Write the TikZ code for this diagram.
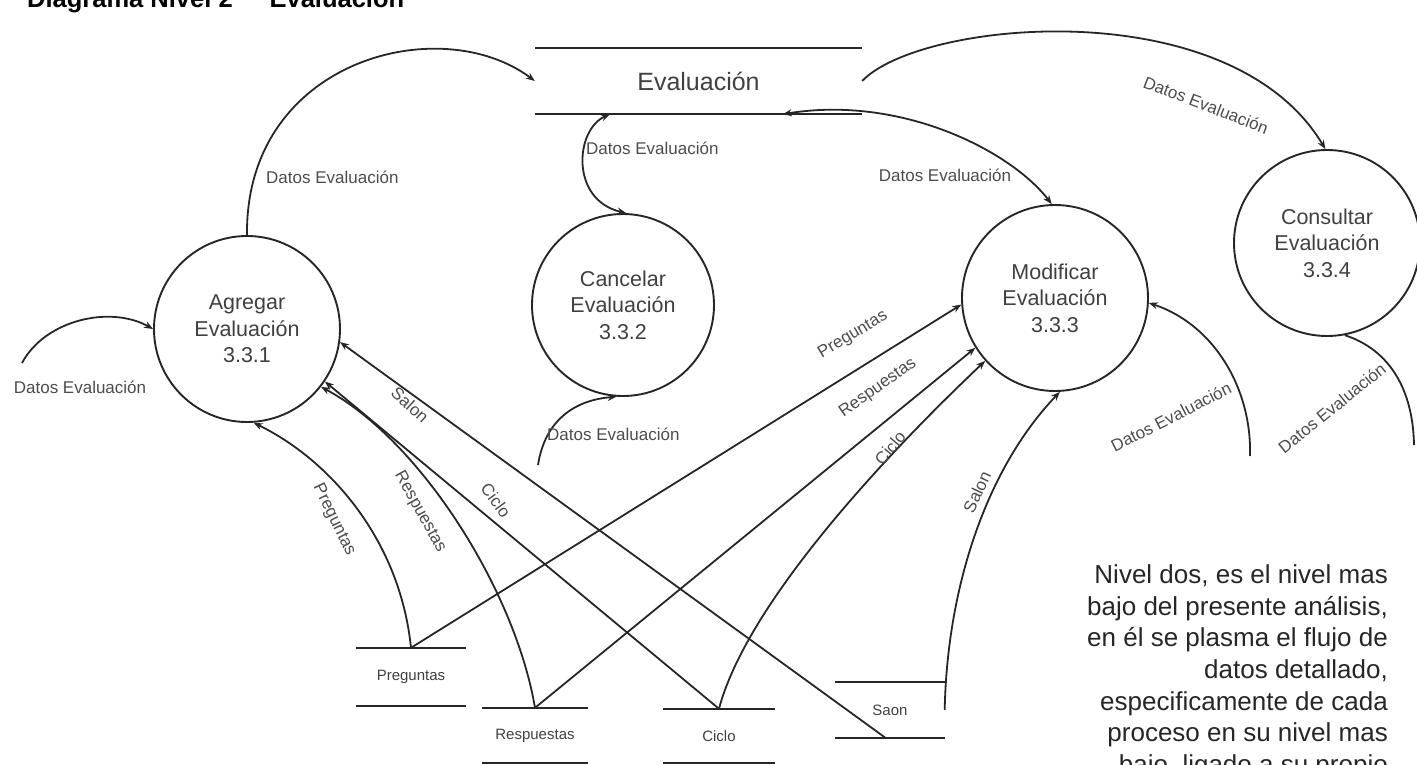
\documentclass[tikz,border=0pt]{standalone}
\usepackage{fontspec}
\setmainfont{Liberation Sans}
\usetikzlibrary{arrows.meta}
\begin{document}
\begin{tikzpicture}[x=1pt,y=-1pt,
  tip/.tip={Stealth[length=9pt,width=7pt]},
  flow/.style={draw=black!85, line width=1.8pt, -tip},
  twoway/.style={draw=black!85, line width=1.8pt, tip-tip},
  plainflow/.style={draw=black!85, line width=1.8pt},
  proc/.style={circle, draw=black!85, line width=1.9pt, minimum size=186pt,
    inner sep=0pt, align=center, text=black!75,
    font=\fontsize{21.5}{26.5}\selectfont},
  store/.style={inner sep=0pt, text=black!75},
  storeline/.style={draw=black!85, line width=2.4pt},
  lbl/.style={font=\fontsize{17}{20}\selectfont, text=black!70, inner sep=1pt},
  smalltext/.style={font=\fontsize{15}{18}\selectfont},
  para/.style={anchor=base east, inner sep=0pt, text=black!85,
    font=\fontsize{26}{31.7}\selectfont}
]
\useasboundingbox (0,0) rectangle (1417,765);
\clip (0,0) rectangle (1417,765);

% title
\node[anchor=base west, inner sep=0pt, font=\bfseries\fontsize{25.5}{30}\selectfont]
  (title) at (27,8) {Diagrama Nivel 2 \,\raisebox{3pt}{–}\, Evaluación};

% processes
\node[proc] (agr) at (247,329) {Agregar\\Evaluación\\3.3.1};
\node[proc, minimum size=182pt] (can) at (623,305) {Cancelar\\Evaluación\\3.3.2};
\node[proc] (mod) at (1055,298) {Modificar\\Evaluación\\3.3.3};
\node[proc] (con) at (1327,243) {Consultar\\Evaluación\\3.3.4};

% data store Evaluación
\node[store, minimum width=327pt, minimum height=66pt, font=\fontsize{25}{30}\selectfont]
  (evs) at (698.5,81) {Evaluación};
\draw[storeline] (evs.north west) -- (evs.north east);
\draw[storeline] (evs.south west) -- (evs.south east);

% lower data stores
\node[store, smalltext, minimum width=109pt, minimum height=58pt]
  (preg) at (411,677) {Preguntas};
\node[store, smalltext, minimum width=106pt, minimum height=55pt]
  (resp) at (535,735.5) {Respuestas};
\node[store, smalltext, minimum width=111pt, minimum height=54pt]
  (cic) at (719,736) {Ciclo};
\node[store, smalltext, minimum width=109pt, minimum height=56pt]
  (sal) at (890,710) {Saon};
\foreach \s in {preg,resp,cic,sal}{
  \draw[storeline] (\s.north west) -- (\s.north east);
  \draw[storeline] (\s.south west) -- (\s.south east);
}

% free ends of external flows
\coordinate (extL) at (22,363);
\coordinate (extC) at (538,465);
\coordinate (extM) at (1250,456);
\coordinate (extK) at (1414,445);

% flows around the Evaluación store
\draw[flow] (agr.90) .. controls (245,60) and (440,10) .. (evs.west);
\draw[twoway] ([xshift=75pt]evs.south west) .. controls (575,130) and (570,200) .. (can.88);
\draw[twoway] ([xshift=248pt]evs.south west) .. controls (900,95) and (1010,150) .. (mod.92);
\draw[flow] (evs.east) .. controls (920,20) and (1230,-10) .. (con.91);

% external flows
\draw[flow] (extL) .. controls (45,320) and (110,305) .. (agr.180);
\draw[flow] (extC) .. controls (545,420) and (575,400) .. (can.266);
\draw[flow] (extM) .. controls (1252,390) and (1215,325) .. (mod.357);
\draw[plainflow] (con.-79) .. controls (1390,350) and (1413,390) .. (extK);

% flows from the lower stores into Agregar
\draw[flow] (preg.north) .. controls (400,540) and (330,460) .. (agr.274);
\draw[flow] (resp.north) .. controls (515,590) and (420,440) .. (agr.-38);
\draw[flow] (cic.north) -- (agr.-34);
\draw[flow] ([xshift=-4pt]sal.south) -- (agr.-8);

% flows from the lower stores into Modificar
\draw[flow] (preg.north) -- (mod.184);
\draw[flow] (resp.north) -- (mod.212);
\draw[flow] (cic.north) .. controls (745,610) and (870,470) .. (mod.222);
\draw[flow] (sal.east) .. controls (947,590) and (985,470) .. (mod.273);

% flow labels
\node[lbl, anchor=west] (l1) at (265,177) {Datos Evaluación};
\node[lbl] (l2) at (80,387) {Datos Evaluación};
\node[lbl, anchor=west] (l3) at (585,148) {Datos Evaluación};
\node[lbl, anchor=west] (l4) at (546,434) {Datos Evaluación};
\node[lbl] (l5) at (945,175) {Datos Evaluación};
\node[lbl, rotate=-21] (l6) at (1206,105) {Datos Evaluación};
\node[lbl, rotate=27] (l7) at (1171,417) {Datos Evaluación};
\node[lbl, rotate=39] (l8) at (1332,408) {Datos Evaluación};
\node[lbl, rotate=31] (l9) at (853,335) {Preguntas};
\node[lbl, rotate=35] (l10) at (878,388) {Respuestas};
\node[lbl, rotate=50] (l11) at (890,448) {Ciclo};
\node[lbl, rotate=65] (l12) at (977,492) {Salon};
\node[lbl, rotate=-42] (l13) at (410,405) {Salon};
\node[lbl, rotate=-64] (l14) at (334,520) {Preguntas};
\node[lbl, rotate=-61] (l15) at (420,512) {Respuestas};
\node[lbl, rotate=-54] (l16) at (496,500) {Ciclo};

% note
\node[para] (n1) at (1388,583) {Nivel dos, es el nivel mas};
\node[para] (n2) at (1388,615) {bajo del presente análisis,};
\node[para] (n3) at (1388,646) {en él se plasma el flujo de};
\node[para] (n4) at (1388,678) {datos detallado,};
\node[para] (n5) at (1388,710) {especificamente de cada};
\node[para] (n6) at (1388,741) {proceso en su nivel mas};
\node[para] (n7) at (1388,773) {bajo, ligado a su propio};
\end{tikzpicture}
\end{document}
